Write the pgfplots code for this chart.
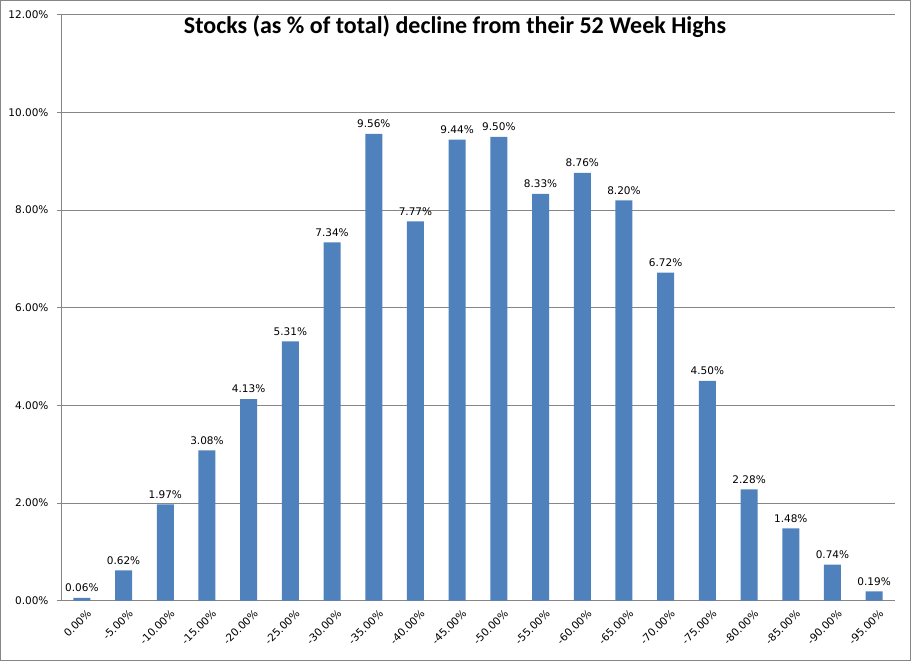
\documentclass[border=0pt]{standalone}
\usepackage{pgfplots}
\pgfplotsset{compat=1.18}
\usepackage{fontspec}
\setmainfont{DejaVu Sans}
\newfontfamily\carlito{Carlito}
\definecolor{barblue}{HTML}{4F81BD}
\definecolor{gridgray}{HTML}{868686}
\begin{document}
\begin{tikzpicture}[x=1pt,y=1pt]
\useasboundingbox (0,0) rectangle (911,661);
\draw[gridgray,line width=0.8pt] (0.5,0.5) rectangle (910.5,660.5);
\begin{axis}[
  at={(61pt,60.3pt)}, anchor=south west,
  scale only axis, width=834pt, height=586pt,
  xmin=-0.5, xmax=19.5, ymin=0, ymax=12,
  axis lines*=left,
  axis line style={gridgray, line width=0.8pt},
  ybar, bar width=17pt,
  ytick={0,2,4,6,8,10,12},
  yticklabels={0.00\%,2.00\%,4.00\%,6.00\%,8.00\%,10.00\%,12.00\%},
  ymajorgrids, grid style={gridgray, line width=0.8pt},
  ytick style={gridgray, line width=0.8pt},
  tick align=outside,
  major tick length=4pt,
  xtick={0,...,19},
  xticklabels={0.00\%,-5.00\%,-10.00\%,-15.00\%,-20.00\%,-25.00\%,-30.00\%,-35.00\%,-40.00\%,-45.00\%,-50.00\%,-55.00\%,-60.00\%,-65.00\%,-70.00\%,-75.00\%,-80.00\%,-85.00\%,-90.00\%,-95.00\%},
  xtick style={draw=none},
  minor xtick={-0.5,0.5,...,19.5},
  minor tick length=4pt,
  minor x tick style={gridgray, line width=0.8pt},
  x tick label style={rotate=45, anchor=north east, font=\fontsize{10.5}{12}\selectfont, inner sep=1pt, xshift=1.5pt, yshift=-5pt},
  y tick label style={font=\fontsize{10.5}{12}\selectfont, xshift=-5pt},
  /pgf/number format/assume math mode=true,
  nodes near coords={\pgfmathprintnumber[fixed,fixed zerofill,precision=2]{\pgfplotspointmeta}\%},
  every node near coord/.append style={font=\fontsize{10.5}{12}\selectfont, black, yshift=2.5pt},
  clip=false,
]
\addplot[fill=barblue, draw=none] coordinates {
(0,0.06) (1,0.62) (2,1.97) (3,3.08) (4,4.13) (5,5.31) (6,7.34) (7,9.56) (8,7.77) (9,9.44)
(10,9.50) (11,8.33) (12,8.76) (13,8.20) (14,6.72) (15,4.50) (16,2.28) (17,1.48) (18,0.74) (19,0.19)};
\end{axis}
\node[font=\carlito\bfseries\fontsize{24}{28}\selectfont] at (455,634) {Stocks (as \% of total) decline from their 52 Week Highs};
\end{tikzpicture}
\end{document}
